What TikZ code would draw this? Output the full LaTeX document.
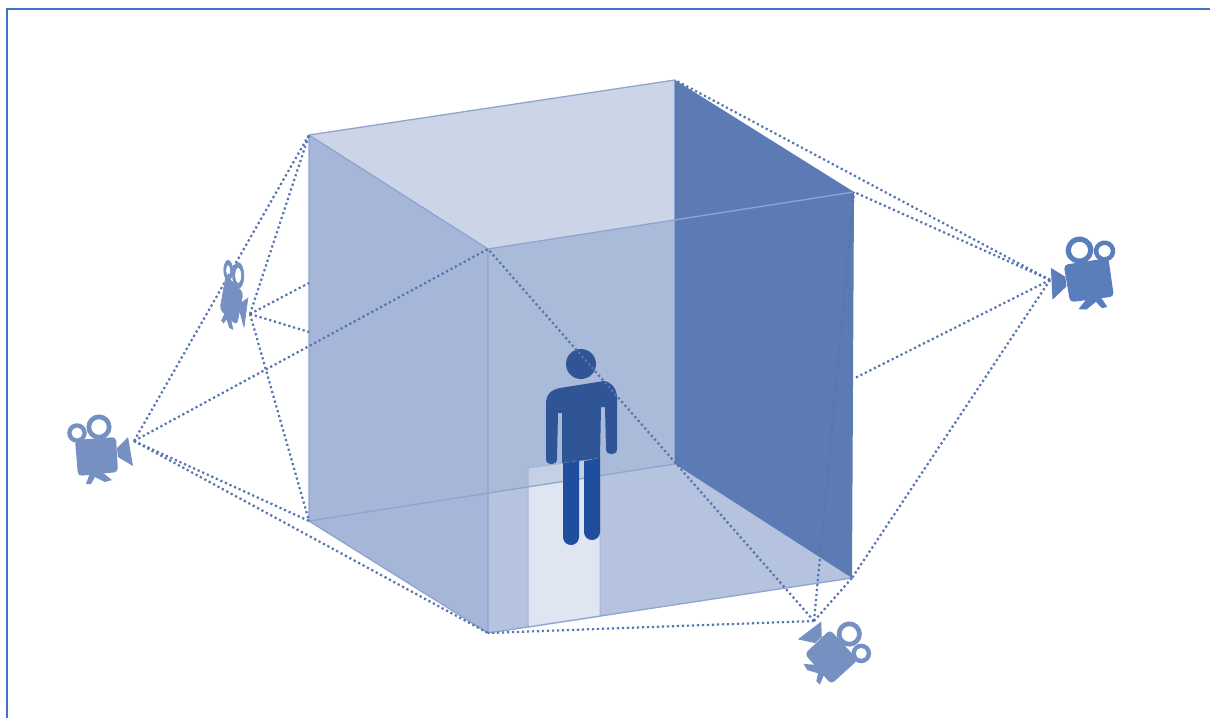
\documentclass[tikz,border=0pt]{standalone}
\definecolor{frameblue}{HTML}{4472C4}
\definecolor{edgeblue}{HTML}{8FA5CF}
\definecolor{topface}{HTML}{CCD5E8}
\definecolor{leftface}{HTML}{A5B6D8}
\definecolor{backface}{HTML}{AABBD9}
\definecolor{floorface}{HTML}{B5C3DE}
\definecolor{darkface}{HTML}{5C7BB5}
\definecolor{doorlight}{HTML}{DFE5F1}
\definecolor{doorband}{HTML}{C6D0E5}
\definecolor{doorline}{HTML}{A3B5D6}
\definecolor{dotblue}{HTML}{5574B2}
\definecolor{camsoft}{HTML}{7690C2}
\definecolor{camstrong}{HTML}{5A7DBB}
\definecolor{torso}{HTML}{2F5597}
\definecolor{legs}{HTML}{1F4E9F}
\newcommand{\camshape}[1]{%
  \fill[#1,rounded corners=4pt] (-21,-17) -- (20,-20) -- (22,15) -- (-18,19) -- cycle;
  \fill[#1] (21,-9) -- (32,-20) -- (37,9) -- (22,0) -- cycle;
  \fill[#1] (-6,16) -- (-10,27) -- (-5,27) -- (-1,20) -- (9,25) -- (16,23) -- (6,15) -- cycle;
  \fill[#1,even odd rule] (-19,-24) circle (9.8) (-19,-24) circle (5.6);
  \fill[#1,even odd rule] (3,-30) circle (12.6) (3,-30) circle (7.8);
}
\tikzset{
  x=1pt,y=-1pt,
  face/.style={draw=edgeblue,line width=1.3pt,line join=round},
  sight/.style={draw=dotblue,line width=2.2pt,dash pattern=on 2.2pt off 2.8pt},
}
\begin{document}
\begin{tikzpicture}
\useasboundingbox (0,0) rectangle (1210,718);
\fill[white] (0,0) rectangle (1210,718);
\draw[frameblue,line width=1.4pt] (7,718) -- (7,9) -- (1210,9);

\coordinate (A) at (309,135);
\coordinate (B) at (675,80);
\coordinate (C) at (854,192);
\coordinate (D) at (488,249);
\coordinate (E) at (309,521);
\coordinate (F) at (675,464);
\coordinate (G) at (852,578);
\coordinate (H) at (488,633);
\coordinate (Tr) at (675,220);
\coordinate (La) at (309,283);
\coordinate (Lb) at (309,332);
\coordinate (Rm) at (855,378);
\coordinate (Ha) at (1050,280);
\coordinate (Hb) at (814,621);
\coordinate (Hc) at (134,441);
\coordinate (Hd) at (250,314);

% faces
\fill[backface] (D) -- (Tr) -- (F) -- (E) -- (H) -- cycle;
\fill[topface] (A) -- (B) -- (Tr) -- (D) -- cycle;
\fill[floorface] (E) -- (F) -- (G) -- (H) -- cycle;
\fill[leftface] (A) -- (D) -- (H) -- (E) -- cycle;
\fill[floorface] (488,633) -- (488,506) -- (F) -- (G) -- cycle;
% door
\fill[doorband] (528,468) -- (600,458) -- (600,477) -- (528,487) -- cycle;
\fill[doorlight] (528,487) -- (600,477) -- (600,617) -- (528,628) -- cycle;
\draw[doorline,line width=1pt] (528,628) -- (528,468) -- (600,458) -- (600,617);
% edges
\draw[face] (B) -- (A) -- (E) -- (H) -- (G);
\draw[face] (A) -- (D) -- (H);
\draw[face] (E) -- (F);
\draw[face] (B) -- (F);
\fill[darkface] (B) -- (C) -- (G) -- (F) -- cycle;
\draw[face] (D) -- (C);

% person
\fill[torso] (581,364) circle (15);
\fill[legs] (563,463) -- (579,461) -- (579,537) arc (0:180:8) -- cycle;
\fill[legs] (584,461) -- (600,458) -- (600,532) arc (0:180:8) -- cycle;
\fill[torso] (546,404) .. controls (546,394) and (551,390) .. (560,388)
  -- (604,381) .. controls (612,382) and (617,390) .. (617,397)
  -- (617,449) .. controls (617,456) and (606,456) .. (606,449)
  -- (605,407) -- (601,407) -- (600,458) -- (562,463) -- (562,413) -- (558,413)
  -- (557,459) .. controls (557,466) and (546,466) .. (546,459) -- cycle;

% lines of sight
\draw[sight] (Hc) -- (A);
\draw[sight] (Hc) -- (D);
\draw[sight] (Hc) -- (E);
\draw[sight] (Hc) -- (H);
\draw[sight] (Hd) -- (A);
\draw[sight] (Hd) -- (La);
\draw[sight] (Hd) -- (Lb);
\draw[sight] (Hd) -- (E);
\draw[sight] (Ha) -- (B);
\draw[sight] (Ha) -- (C);
\draw[sight] (Ha) -- (Rm);
\draw[sight] (Ha) -- (G);
\draw[sight] (Hb) -- (D);
\draw[sight] (Hb) -- (H);
\draw[sight] (Hb) -- (C);
\draw[sight] (Hb) -- (G);

% cameras
\begin{scope}[shift={(96,457)}]\camshape{camsoft}\end{scope}
\begin{scope}[shift={(1090,281)},rotate=13,xscale=-1.1,yscale=1.08]\camshape{camstrong}\end{scope}
\begin{scope}[shift={(831,658)},rotate=-43,xscale=-1]\camshape{camsoft}\end{scope}
\begin{scope}[shift={(231,301)},cm={0.4,-0.476,0.2,0.9,(0,0)}]\camshape{camsoft,draw=camsoft,line width=.7pt}\end{scope}
\end{tikzpicture}
\end{document}
